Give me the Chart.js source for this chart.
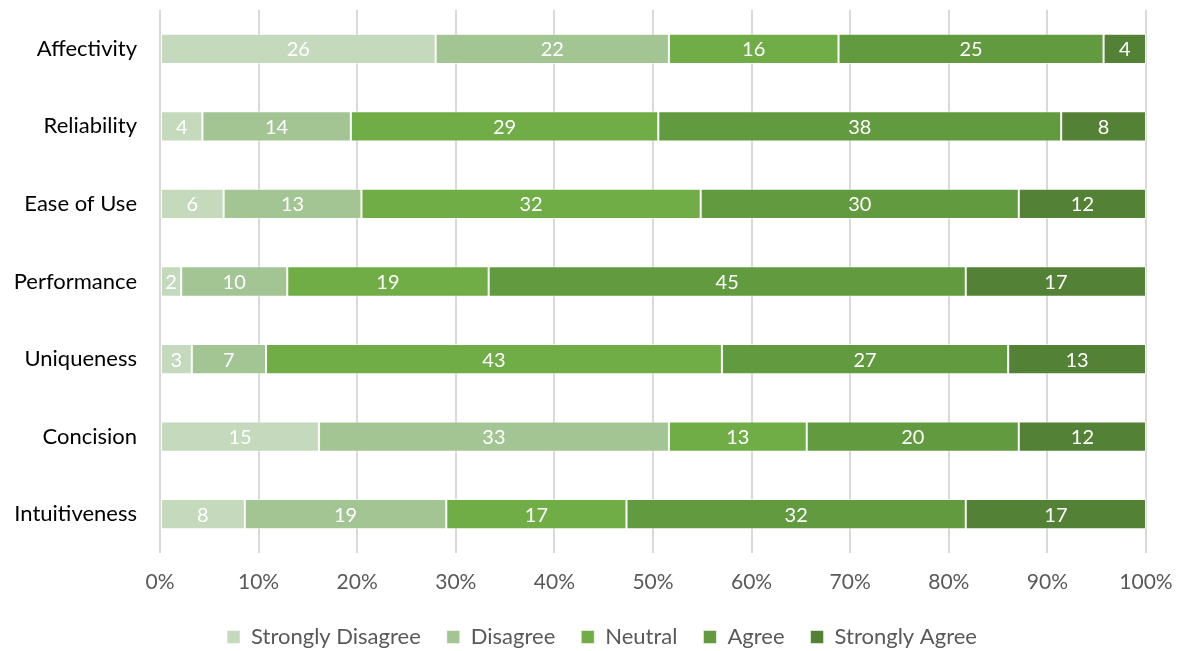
<!DOCTYPE html>
<html>
<head>
<meta charset="utf-8">
<script src="https://cdn.jsdelivr.net/npm/chart.js@4/dist/chart.umd.min.js"></script>
<style>
  html, body { margin: 0; padding: 0; background: #fff; }
  #wrap { width: 1180px; height: 651px; }
</style>
</head>
<body>
<div id="wrap"><canvas id="barchart" width="1180" height="651"></canvas></div>
<script>
const categories = ['Affectivity', 'Reliability', 'Ease of Use', 'Performance', 'Uniqueness', 'Concision', 'Intuitiveness'];
const strongDisagree = [26, 4, 6, 2, 3, 15, 8];
const disagree       = [22, 14, 13, 10, 7, 33, 19];
const neutral        = [16, 29, 32, 19, 43, 13, 17];
const agree          = [25, 38, 30, 45, 27, 20, 32];
const strongAgree    = [4, 8, 12, 17, 13, 12, 17];
const seriesNames = ['Strongly Disagree', 'Disagree', 'Neutral', 'Agree', 'Strongly Agree'];
const colors = ['#c5d9bc', '#a3c593', '#70ad47', '#629a3f', '#538135'];

const counts = [strongDisagree, disagree, neutral, agree, strongAgree];
const totals = categories.map((c, i) => counts.reduce((s, arr) => s + arr[i], 0));
const FONT = 'Lato, "Open Sans", sans-serif';

// white count labels in the middle of each segment
const countLabels = {
  id: 'countLabels',
  afterDatasetsDraw(chart) {
    const ctx = chart.ctx;
    ctx.save();
    ctx.fillStyle = '#ffffff';
    ctx.font = '20px ' + FONT;
    ctx.textAlign = 'center';
    ctx.textBaseline = 'middle';
    chart.data.datasets.forEach((ds, di) => {
      chart.getDatasetMeta(di).data.forEach((bar, i) => {
        const p = bar.getProps(['x', 'y', 'base']);
        ctx.fillText(String(ds.counts[i]), (p.x + p.base) / 2, p.y + 1);
      });
    });
    ctx.restore();
  }
};

// legend in the reference sits a bit right of the canvas centre
const shiftLegend = {
  id: 'shiftLegend',
  afterLayout(chart) {
    if (chart.legend) {
      chart.legend.left += 29;
      chart.legend.right += 29;
    }
  }
};

const ctx = document.getElementById('barchart').getContext('2d');
const myChart = new Chart(ctx, {
  type: 'bar',
  data: {
    labels: categories,
    datasets: counts.map((arr, k) => ({
      label: seriesNames[k],
      counts: arr,
      data: arr.map((v, i) => v / totals[i] * 100),
      backgroundColor: colors[k],
      borderColor: 'rgba(255,255,255,0.55)',
      borderWidth: 1,
      borderSkipped: false,
      categoryPercentage: 1,
      barPercentage: 0.39
    }))
  },
  options: {
    indexAxis: 'y',
    responsive: false,
    animation: false,
    layout: { padding: { top: 10, right: 34, bottom: -7, left: 0 } },
    scales: {
      x: {
        stacked: true,
        min: 0,
        max: 100,
        ticks: {
          stepSize: 10,
          color: '#595959',
          font: { family: FONT, size: 21 },
          padding: 17,
          callback: v => v + '%'
        },
        grid: { color: '#d9d9d9', lineWidth: 2, drawTicks: false },
        border: { display: false },
        afterFit(scale) {
          scale.height = 47;
          scale.paddingLeft = 0;
          scale.paddingRight = 0;
        }
      },
      y: {
        stacked: true,
        ticks: {
          color: '#000000',
          font: { family: FONT, size: 22 },
          padding: 15
        },
        grid: { display: false },
        border: { display: false },
        afterFit(scale) {
          scale.width = 160;
          scale.paddingTop = 0;
          scale.paddingBottom = 0;
        }
      }
    },
    plugins: {
      legend: {
        position: 'bottom',
        labels: {
          boxWidth: 13,
          boxHeight: 13,
          color: '#595959',
          font: { family: FONT, size: 22 },
          padding: 26
        }
      },
      tooltip: { enabled: false }
    }
  },
  plugins: [countLabels, shiftLegend]
});
</script>
</body>
</html>
